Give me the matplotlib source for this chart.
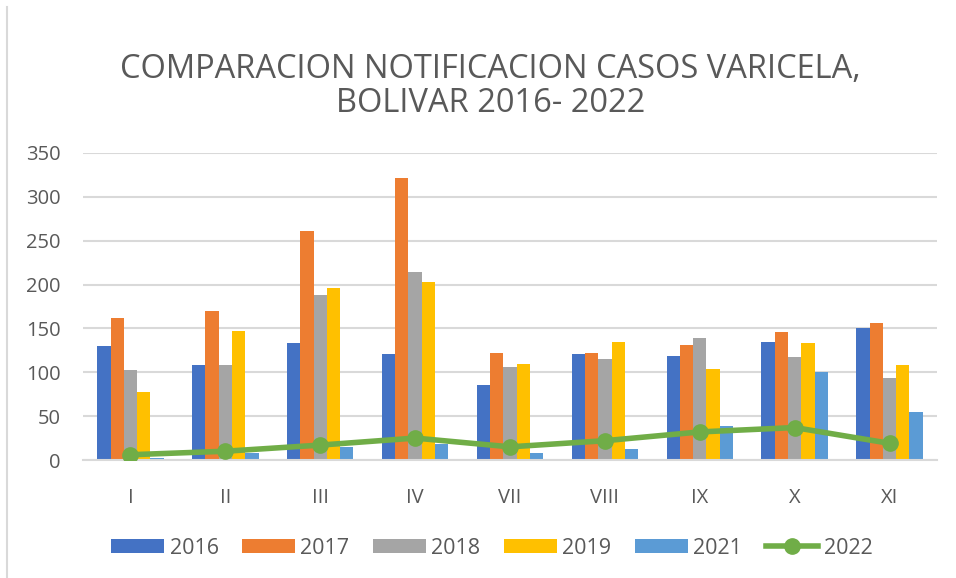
import numpy as np
import matplotlib.pyplot as plt
from matplotlib.lines import Line2D

plt.rcParams['font.family'] = ['Open Sans', 'DejaVu Sans']

months = ["I", "II", "III", "IV", "VII", "VIII", "IX", "X", "XI"]
y2016 = [130, 108, 133, 121, 85, 121, 118, 135, 150]
y2017 = [162, 170, 261, 321, 122, 122, 131, 146, 156]
y2018 = [103, 108, 188, 214, 106, 115, 139, 117, 94]
y2019 = [78, 147, 196, 203, 109, 135, 104, 133, 108]
y2021 = [2, 8, 15, 18, 8, 13, 39, 100, 55]
y2022 = [6, 10, 17, 25, 15, 22, 32, 37, 19]

bar_series = [("2016", y2016, "#4472C4"), ("2017", y2017, "#ED7D31"),
              ("2018", y2018, "#A5A5A5"), ("2019", y2019, "#FFC000"),
              ("2021", y2021, "#5B9BD5")]

fig = plt.figure(figsize=(9.56, 5.78), dpi=100)
ax = fig.add_axes([83 / 956, 1 - 460 / 578, 854 / 956, 307 / 578])

x = np.arange(len(months))
w = 0.14
for i, (name, vals, col) in enumerate(bar_series):
    ax.bar(x + (i - 2) * w, vals, w, color=col, label=name, zorder=2)
ax.plot(x, y2022, color="#70AD47", lw=4, marker="o", ms=11, label="2022", zorder=3)

ax.set_xlim(-0.5, len(months) - 0.5)
ax.set_ylim(0, 350)
ax.set_yticks(range(0, 351, 50))
ax.set_xticks(x)
ax.set_xticklabels(months)
ax.grid(axis="y", color="#D9D9D9", lw=1.5, zorder=0)
for s in ["top", "right", "left"]:
    ax.spines[s].set_visible(False)
ax.spines["bottom"].set_color("#D9D9D9")
ax.spines["bottom"].set_linewidth(1.5)
ax.tick_params(length=0, labelsize=14.5, colors="#595959")
ax.tick_params(axis="x", pad=20)
ax.tick_params(axis="y", pad=16)

fig.text(0.513, 1 - 70 / 578, "COMPARACION NOTIFICACION CASOS VARICELA,",
         ha="center", va="center", fontsize=23.5, color="#595959")
fig.text(0.513, 1 - 104 / 578, "BOLIVAR 2016- 2022",
         ha="center", va="center", fontsize=23.5, color="#595959")

# thin frame line on the left edge
fig.add_artist(Line2D([6.5 / 956, 6.5 / 956], [0, 1 - 7 / 578],
                      color="#D9D9D9", lw=1.5))

handles, labels = ax.get_legend_handles_labels()
order = [1, 2, 3, 4, 5, 0]
ax.legend([handles[i] for i in order], [labels[i] for i in order],
          loc="center", bbox_to_anchor=((492 - 83) / 854, (460 - 548) / 307),
          ncol=6, frameon=False, fontsize=15.5, labelcolor="#595959",
          handlelength=2.45, handleheight=0.6, handletextpad=0.25,
          columnspacing=1.1)

fig.savefig("out.png")
